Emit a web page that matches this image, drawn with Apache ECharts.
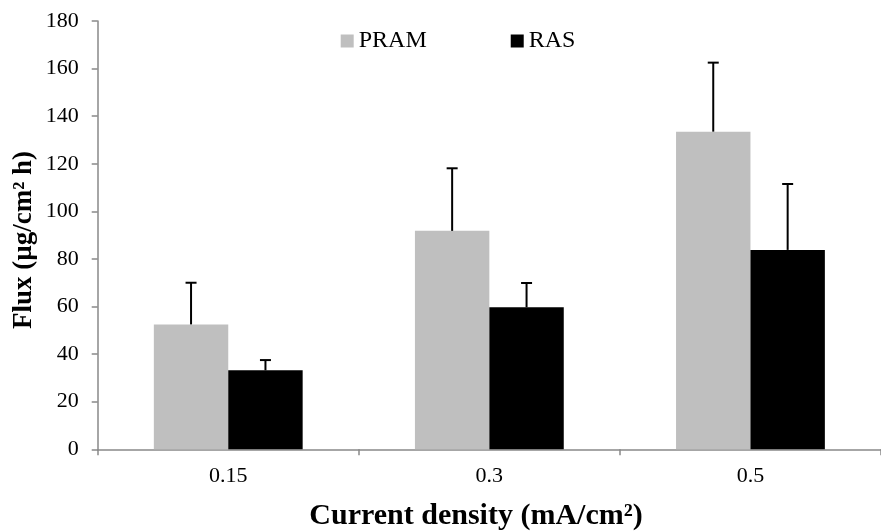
<!DOCTYPE html>
<html>
<head>
<meta charset="utf-8">
<script src="https://cdn.jsdelivr.net/npm/echarts@6/dist/echarts.min.js"></script>
<style>html,body{margin:0;padding:0;background:#fff;}#c{width:881px;height:531px;}</style>
</head>
<body>
<div id="c"></div>
<script>
const categories = ['0.15', '0.3', '0.5'];
const pramValues = [52.5, 91.8, 133.5];
const rasValues = [33.2, 59.7, 83.8];
const pramErrors = [17.5, 26.3, 29.0];
const rasErrors = [4.3, 10.2, 27.7];
const yTicks = [0, 20, 40, 60, 80, 100, 120, 140, 160, 180];

const FONT = '"Liberation Serif", "Times New Roman", serif';
const CAT_GAP = 0.43;

function errItem(sign) {
  return function (params, api) {
    const idx = api.value(0);
    const mean = api.value(1);
    const err = api.value(2);
    const band = api.size([1, 0])[0];
    const bw = band * (1 - CAT_GAP) / 2;
    const base = api.coord([idx, mean]);
    const top = api.coord([idx, mean + err]);
    const x = base[0] + sign * bw / 2;
    const style = { stroke: '#000', lineWidth: 2 };
    return {
      type: 'group',
      children: [
        { type: 'line', shape: { x1: x, y1: base[1], x2: x, y2: top[1] }, style: style },
        { type: 'line', shape: { x1: x - 5.5, y1: top[1], x2: x + 5.5, y2: top[1] }, style: style }
      ]
    };
  };
}

const chart = echarts.init(document.getElementById('c'), null, { renderer: 'canvas' });
chart.setOption({
  animation: false,
  backgroundColor: '#fff',
  textStyle: { fontFamily: FONT },
  legend: {
    data: ['PRAM', 'RAS'],
    left: 335.7,
    top: 24,
    icon: 'rect',
    itemWidth: 13,
    itemHeight: 13,
    itemGap: 84,
    textStyle: { fontFamily: FONT, fontSize: 24, color: '#000' }
  },
  grid: { left: 97.7, top: 21, width: 794, bottom: 81.7 },
  xAxis: {
    type: 'category',
    data: categories,
    boundaryGap: true,
    axisLine: { lineStyle: { color: '#898989', width: 1.5 } },
    axisTick: { show: true, length: 6, lineStyle: { color: '#898989', width: 1.5 } },
    axisLabel: { fontFamily: FONT, fontSize: 22, color: '#000', margin: 16 }
  },
  yAxis: {
    type: 'value',
    min: yTicks[0],
    max: yTicks[yTicks.length - 1],
    interval: yTicks[1] - yTicks[0],
    splitLine: { show: false },
    axisLine: { show: true, lineStyle: { color: '#898989', width: 1.5 } },
    axisTick: { show: true, length: 6, lineStyle: { color: '#898989', width: 1.5 } },
    axisLabel: { fontFamily: FONT, fontSize: 22, color: '#000', margin: 19 }
  },
  graphic: [
    {
      type: 'text', x: 24, y: 240, rotation: Math.PI / 2,
      style: { text: 'Flux (µg/cm² h)', font: 'bold 27px ' + FONT, fill: '#000', align: 'center', verticalAlign: 'middle' }
    },
    {
      type: 'text', x: 476, y: 516,
      style: { text: 'Current density (mA/cm²)', font: 'bold 30px ' + FONT, fill: '#000', align: 'center', verticalAlign: 'middle' }
    }
  ],
  series: [
    { name: 'PRAM', type: 'bar', data: pramValues, barGap: '0%', barCategoryGap: (CAT_GAP * 100) + '%', itemStyle: { color: '#BFBFBF' } },
    { name: 'RAS', type: 'bar', data: rasValues, barGap: '0%', barCategoryGap: (CAT_GAP * 100) + '%', itemStyle: { color: '#000000' } },
    { name: 'PRAM err', type: 'custom', renderItem: errItem(-1), data: pramValues.map((v, i) => [i, v, pramErrors[i]]), z: 5 },
    { name: 'RAS err', type: 'custom', renderItem: errItem(1), data: rasValues.map((v, i) => [i, v, rasErrors[i]]), z: 5 }
  ]
});
</script>
</body>
</html>
